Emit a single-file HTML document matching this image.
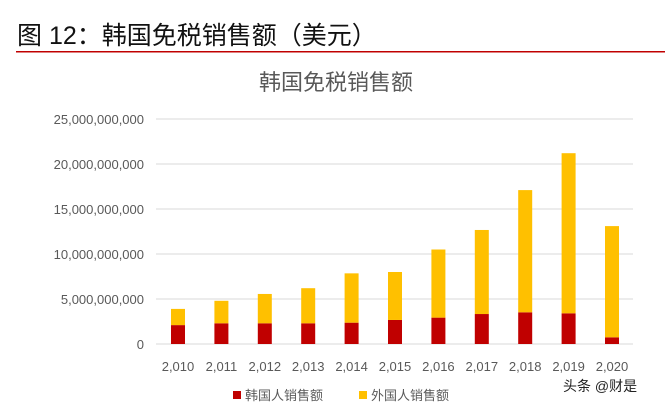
<!DOCTYPE html>
<html><head><meta charset="utf-8"><style>
body{margin:0;background:#fff;width:665px;height:410px;overflow:hidden;font-family:"Liberation Sans","Noto Sans CJK SC",sans-serif;}
</style></head><body>
<svg id="c" width="665" height="410" xmlns="http://www.w3.org/2000/svg">
<text x="17" y="44" font-size="25" fill="#111" font-family="Liberation Sans,Noto Sans CJK SC,sans-serif">图 12：韩国免税销售额（美元）</text>
<rect x="16" y="51" width="649" height="1.5" fill="#c00000"/>
<text x="336" y="90" font-size="22" fill="#595959" text-anchor="middle" font-family="Liberation Sans,Noto Sans CJK SC,sans-serif">韩国免税销售额</text>
<g id="grid"></g><g id="bars"></g><g id="xl"></g>
<rect x="233" y="391" width="8" height="8" fill="#c00000"/>
<text x="245" y="400" font-size="13" fill="#595959" font-family="Liberation Sans,Noto Sans CJK SC,sans-serif">韩国人销售额</text>
<rect x="359" y="391" width="8" height="8" fill="#ffc000"/>
<text x="371" y="400" font-size="13" fill="#595959" font-family="Liberation Sans,Noto Sans CJK SC,sans-serif">外国人销售额</text>
<text x="563" y="391" font-size="14" fill="#222" font-family="Liberation Sans,Noto Sans CJK SC,sans-serif">头条 @财是</text>
</svg>
<script>
const years=["2,010","2,011","2,012","2,013","2,014","2,015","2,016","2,017","2,018","2,019","2,020"];
const korean=[2.1,2.3,2.3,2.3,2.37,2.67,2.93,3.33,3.52,3.41,0.74];
const foreign=[1.8,2.5,3.26,3.9,5.48,5.33,7.57,9.34,13.58,17.79,12.36];
const yTicks=[0,5,10,15,20,25];
const yTickLabels=["0","5,000,000,000","10,000,000,000","15,000,000,000","20,000,000,000","25,000,000,000"];
const NS="http://www.w3.org/2000/svg";
const y0=344,pxPer=9,x0=178,step=43.4,bw=14;
const Y=v=>y0-v*pxPer, X=i=>x0+i*step;
function mk(t,a,p){const e=document.createElementNS(NS,t);for(const k in a)e.setAttribute(k,a[k]);p.appendChild(e);return e;}
const g=document.getElementById('grid');
yTicks.forEach((v,i)=>{
 const l=mk('line',{x1:156,x2:633,y1:Y(v),y2:Y(v),stroke:'#d9d9d9','stroke-width':1},g);
 
 
 const t=mk('text',{x:144,y:Y(v)+5,'font-size':13,fill:'#595959','text-anchor':'end'},g);
 t.textContent=yTickLabels[i];
 
 
});
const b=document.getElementById('bars'),xl=document.getElementById('xl');
years.forEach((yr,i)=>{
 const r1=mk('rect',{x:X(i)-bw/2,y:Y(korean[i]),width:bw,height:korean[i]*pxPer,fill:'#c00000'},b);
 
 
 const r2=mk('rect',{x:X(i)-bw/2,y:Y(korean[i]+foreign[i]),width:bw,height:foreign[i]*pxPer,fill:'#ffc000'},b);
 
 
 const t=mk('text',{x:X(i),y:371,'font-size':13,fill:'#595959','text-anchor':'middle'},xl);
 t.textContent=yr;
 
 
});
</script>
</body></html>
